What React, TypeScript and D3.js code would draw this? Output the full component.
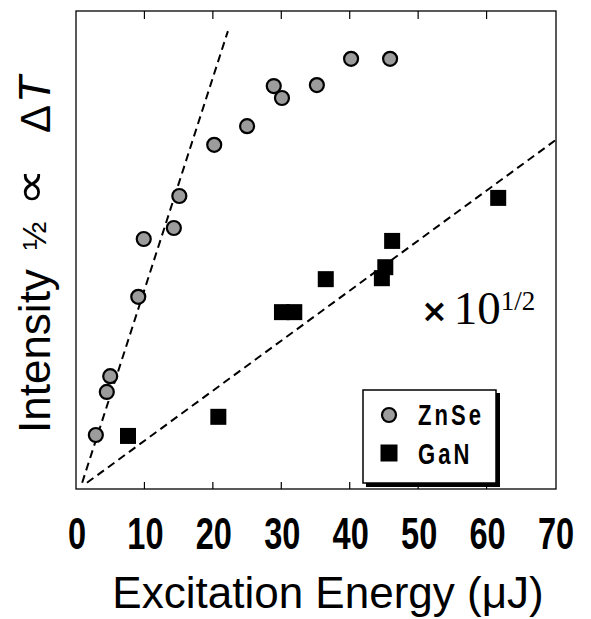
import React from 'react';
import * as d3 from 'd3';

// ZnSe points: [energy µJ, intensity^1/2 (arb.)]
const znseEnergy = [2.9, 4.5, 5.0, 9.1, 9.9, 14.3, 15.1, 20.2, 25.0, 28.9, 30.1, 35.2, 40.2, 45.9];
const znseValue = [11.3, 20.3, 23.6, 40.2, 52.3, 54.6, 61.3, 72.0, 75.9, 84.3, 81.8, 84.5, 90.0, 90.0];

// GaN points (x 10^1/2)
const ganEnergy = [7.6, 20.8, 30.1, 31.9, 36.5, 44.7, 45.2, 46.2, 61.7];
const ganValue = [11.1, 15.1, 37.0, 37.0, 43.9, 44.1, 46.4, 51.9, 60.9];

// dashed guide lines, [x, y] endpoints
const znseFit = [[0.9, 1.3], [22.2, 95.8]];
const ganFit = [[1.6, 1.3], [70, 72.9]];

const xTicks = [0, 10, 20, 30, 40, 50, 60, 70];

const width = 591;
const height = 619;
const left = 76;
const right = 555;
const top = 11;
const bottom = 489;

export default function App() {
  const x = d3.scaleLinear().domain([0, 70]).range([left, right]);
  const y = d3.scaleLinear().domain([0, 100]).range([bottom, top]);

  const line = d3.line<number[]>()
    .x(d => x(d[0]))
    .y(d => y(d[1]));

  const condensed = 'Liberation Sans, Arial, sans-serif';
  const sq = 16;

  return (
    <svg width={width} height={height} style={{ position: 'absolute', left: 0, top: 0, background: '#fff' }}>
      {/* frame */}
      <rect x={left} y={top} width={right + 1 - left} height={bottom - top} fill="none" stroke="#000" strokeWidth={1.3} />
      {xTicks.slice(1, -1).map(t => (
        <g key={t}>
          <line x1={x(t)} x2={x(t)} y1={top} y2={top + 8} stroke="#000" strokeWidth={1.2} />
          <line x1={x(t)} x2={x(t)} y1={bottom} y2={bottom - 7} stroke="#000" strokeWidth={1.2} />
        </g>
      ))}

      {/* fit lines */}
      <path d={line(znseFit) || ''} fill="none" stroke="#000" strokeWidth={2} strokeDasharray="8,5" />
      <path d={line(ganFit) || ''} fill="none" stroke="#000" strokeWidth={2} strokeDasharray="8,5" />

      {/* ZnSe */}
      {znseEnergy.map((e, i) => (
        <circle key={'z' + i} cx={x(e)} cy={y(znseValue[i])} r={7} fill="#9c9c9c" stroke="#000" strokeWidth={2.2} />
      ))}

      {/* GaN */}
      {ganEnergy.map((e, i) => (
        <rect key={'g' + i} x={x(e) - sq / 2} y={y(ganValue[i]) - sq / 2} width={sq} height={sq} fill="#000" />
      ))}

      {/* x tick labels */}
      {xTicks.map(t => (
        <text key={t} transform={`translate(${x(t) + 1},549) scale(0.74,1)`} textAnchor="middle"
          fontFamily={condensed} fontWeight="bold" fontSize={44}>{t}</text>
      ))}

      {/* x title */}
      <text x={328} y={608} textAnchor="middle" fontFamily="Liberation Sans, Arial, sans-serif" fontSize={44}>
        Excitation Energy (μJ)
      </text>

      {/* y title */}
      <g transform="translate(50,0) rotate(-90)">
        <text x={-433} y={0} fontFamily="Liberation Sans, Arial, sans-serif" fontSize={44}>Intensity</text>
        <text x={-250} y={-4} fontFamily="Liberation Sans, Arial, sans-serif" fontSize={34}>½</text>
        <text transform="translate(-206,-5) scale(1.2,1)" fontFamily="DejaVu Sans, sans-serif" fontSize={44}>∝</text>
        <text x={-133} y={0} fontFamily="Liberation Sans, Arial, sans-serif" fontSize={42}>Δ</text>
        <text x={-103} y={0} fontFamily="Liberation Sans, Arial, sans-serif" fontSize={44} fontStyle="italic">T</text>
      </g>

      {/* scale note */}
      <text x={421} y={324} fontFamily="Liberation Serif, Times New Roman, serif" fontSize={47}>
        <tspan fontFamily="DejaVu Sans, sans-serif" fontWeight="bold" fontSize={32} dy={-2}>×</tspan>
        <tspan dx={6} dy={2}>10</tspan>
        <tspan dy={-14} fontSize={27}>1/2</tspan>
      </text>

      {/* legend */}
      <rect x={366} y={393} width={134} height={94} fill="#000" />
      <rect x={363} y={390} width={133} height={93} fill="#fff" stroke="#000" strokeWidth={1.5} />
      <circle cx={389} cy={415} r={7} fill="#9c9c9c" stroke="#000" strokeWidth={2.2} />
      <rect x={389 - 8.5} y={453 - 8.5} width={17} height={17} fill="#000" />
      <text transform="translate(418,425) scale(0.76,1)" fontFamily={condensed} fontWeight="bold" fontSize={29} letterSpacing={4}>ZnSe</text>
      <text transform="translate(418,464) scale(0.76,1)" fontFamily={condensed} fontWeight="bold" fontSize={29} letterSpacing={4}>GaN</text>
    </svg>
  );
}
